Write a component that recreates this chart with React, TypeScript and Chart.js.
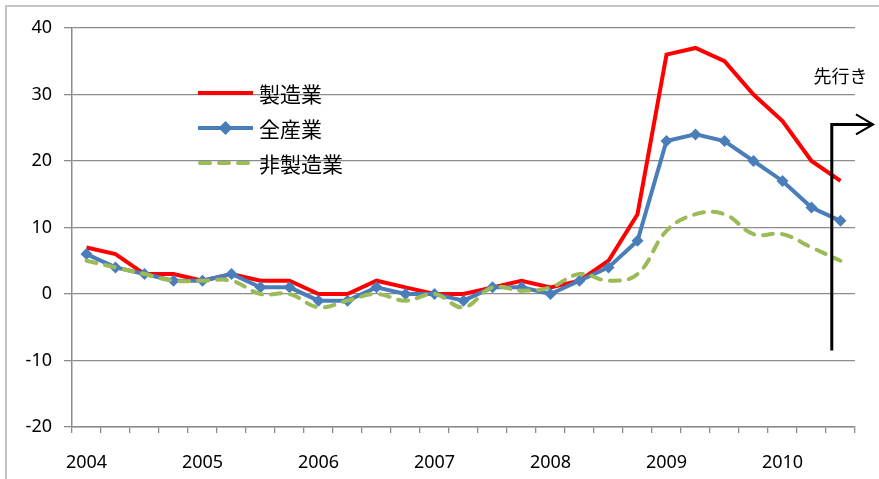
import { useEffect, useRef } from 'react';
import { Chart, registerables } from 'chart.js';

Chart.register(...registerables);

// Quarterly periods, 2004 Q1 – 2010 Q3
const quarters = [
  '2004Q1', '2004Q2', '2004Q3', '2004Q4',
  '2005Q1', '2005Q2', '2005Q3', '2005Q4',
  '2006Q1', '2006Q2', '2006Q3', '2006Q4',
  '2007Q1', '2007Q2', '2007Q3', '2007Q4',
  '2008Q1', '2008Q2', '2008Q3', '2008Q4',
  '2009Q1', '2009Q2', '2009Q3', '2009Q4',
  '2010Q1', '2010Q2', '2010Q3',
];

const seriesNames = ['製造業', '全産業', '非製造業'];

const manufacturing = [7, 6, 3, 3, 2, 3, 2, 2, 0, 0, 2, 1, 0, 0, 1, 2, 1, 2, 5, 12, 36, 37, 35, 30, 26, 20, 17];
const allIndustries = [6, 4, 3, 2, 2, 3, 1, 1, -1, -1, 1, 0, 0, -1, 1, 1, 0, 2, 4, 8, 23, 24, 23, 20, 17, 13, 11];
const nonManufacturing = [5, 4, 3, 2, 2, 2, 0, 0, -2, -1, 0, -1, 0, -2, 1, 0.5, 1, 3, 2, 3, 9.5, 12, 12, 9, 9, 7, 5];

const yMin = -20;
const yMax = 40;
const yStep = 10;

// Forecast marker: vertical bar between the last two quarters, arrow pointing right
const leadLabel = '先行き';
const leadIndex = 25.7;
const leadBottom = -8.5;
const leadTop = 25.5;
const leadLabelIndex = 26.0;
const leadLabelValue = 32.8;

const RED = '#ff0000';
const BLUE = '#4a7ebb';
const GREEN = '#9bbb59';
const GRID = '#8c8c8c';
const TICK_FONT = '"Noto Sans", "DejaVu Sans", sans-serif';
const JP_FONT = '"Noto Sans CJK JP", "Noto Sans", sans-serif';

const overlayPlugin = {
  id: 'overlay',
  afterDatasetsDraw(chart: any) {
    const { ctx, scales } = chart;
    const x = scales.x;
    const y = scales.y;
    const area = chart.chartArea;

    // Forecast arrow
    const ax = x.getPixelForValue(leadIndex);
    const yb = y.getPixelForValue(leadBottom);
    const yt = y.getPixelForValue(leadTop);
    const tipX = area.right + 18;
    ctx.save();
    ctx.strokeStyle = '#000';
    ctx.lineWidth = 3;
    ctx.lineJoin = 'miter';
    ctx.beginPath();
    ctx.moveTo(ax, yb);
    ctx.lineTo(ax, yt);
    ctx.lineTo(tipX, yt);
    ctx.stroke();
    ctx.lineWidth = 2.2;
    ctx.beginPath();
    ctx.moveTo(tipX - 17, yt - 10);
    ctx.lineTo(tipX, yt);
    ctx.lineTo(tipX - 17, yt + 10);
    ctx.stroke();

    ctx.fillStyle = '#000';
    ctx.font = `18px ${JP_FONT}`;
    ctx.textAlign = 'center';
    ctx.textBaseline = 'middle';
    ctx.fillText(leadLabel, x.getPixelForValue(leadLabelIndex), y.getPixelForValue(leadLabelValue));

    // Legend inside the plot
    const lx0 = 198;
    const lx1 = 253;
    const rows = [93, 128, 163];
    const colors = [RED, BLUE, GREEN];
    ctx.font = `21px ${JP_FONT}`;
    ctx.textAlign = 'left';
    rows.forEach((ry, i) => {
      ctx.strokeStyle = colors[i];
      ctx.lineWidth = 4;
      ctx.lineCap = i === 2 ? 'round' : 'butt';
      ctx.setLineDash(i === 2 ? [10, 9] : []);
      ctx.beginPath();
      ctx.moveTo(lx0 + (i === 2 ? 2 : 0), ry);
      ctx.lineTo(lx1, ry);
      ctx.stroke();
      ctx.setLineDash([]);
      if (i === 1) {
        const cx = (lx0 + lx1) / 2;
        ctx.fillStyle = BLUE;
        ctx.beginPath();
        ctx.moveTo(cx, ry - 7);
        ctx.lineTo(cx + 7, ry);
        ctx.lineTo(cx, ry + 7);
        ctx.lineTo(cx - 7, ry);
        ctx.closePath();
        ctx.fill();
      }
      ctx.fillStyle = '#000';
      ctx.fillText(seriesNames[i], 259, ry + 1);
    });
    ctx.restore();
  },
};

export default function App() {
  const canvasRef = useRef<HTMLCanvasElement | null>(null);

  useEffect(() => {
    if (!canvasRef.current) return;
    const chart = new Chart(canvasRef.current, {
      type: 'line',
      data: {
        labels: quarters,
        datasets: [
          {
            label: seriesNames[0],
            data: manufacturing,
            borderColor: RED,
            backgroundColor: RED,
            borderWidth: 4,
            pointRadius: 0,
            tension: 0,
            order: 2,
          },
          {
            label: seriesNames[1],
            data: allIndustries,
            borderColor: BLUE,
            backgroundColor: BLUE,
            borderWidth: 4,
            pointStyle: 'rectRot',
            pointRadius: 6,
            pointBorderWidth: 0,
            tension: 0,
            order: 1,
          },
          {
            label: seriesNames[2],
            data: nonManufacturing,
            borderColor: GREEN,
            backgroundColor: GREEN,
            borderWidth: 4,
            borderDash: [10, 9],
            borderCapStyle: 'round',
            pointRadius: 0,
            tension: 0.4,
            order: 0,
          },
        ],
      },
      options: {
        animation: false,
        responsive: true,
        maintainAspectRatio: false,
        layout: { padding: { top: 28, right: 24, left: 0, bottom: 0 } },
        plugins: {
          legend: { display: false },
          tooltip: { enabled: false },
        },
        scales: {
          x: {
            type: 'category',
            offset: true,
            afterFit: (s: any) => {
              s.height = 52;
            },
            grid: {
              offset: true,
              drawOnChartArea: false,
              drawTicks: true,
              tickLength: 6,
              color: GRID,
              lineWidth: 1.3,
            },
            border: { display: true, color: GRID, width: 1.5 },
            ticks: {
              autoSkip: false,
              maxRotation: 0,
              padding: 19,
              color: '#000',
              font: { family: TICK_FONT, size: 18 },
              callback: (_v: any, i: number) => (i % 4 === 0 ? quarters[i].slice(0, 4) : ''),
            },
          },
          y: {
            min: yMin,
            max: yMax,
            afterFit: (s: any) => {
              s.width = 72;
            },
            grid: {
              color: GRID,
              lineWidth: 1.3,
              drawTicks: true,
              tickLength: 8,
            },
            border: { display: true, color: GRID, width: 1.5 },
            ticks: {
              stepSize: yStep,
              padding: 12,
              color: '#000',
              font: { family: TICK_FONT, size: 18 },
            },
          },
        },
      },
      plugins: [overlayPlugin],
    });
    return () => chart.destroy();
  }, []);

  return (
    <div style={{ position: 'absolute', left: 0, top: 0, width: 879, height: 479, background: '#fff', overflow: 'hidden' }}>
      <div
        style={{
          position: 'absolute',
          left: 5,
          top: 5,
          width: 900,
          height: 500,
          borderLeft: '2px solid #c4c4c4',
          borderTop: '2px solid #c4c4c4',
        }}
      />
      <div style={{ position: 'absolute', left: 0, top: 0, width: 879, height: 479 }}>
        <canvas ref={canvasRef} />
      </div>
    </div>
  );
}
